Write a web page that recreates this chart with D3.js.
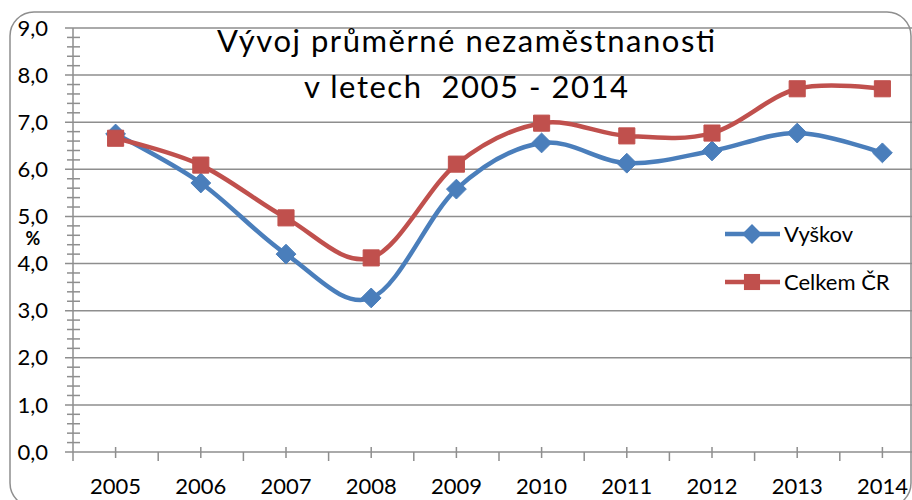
<!DOCTYPE html>
<html>
<head>
<meta charset="utf-8">
<script src="https://cdn.jsdelivr.net/npm/d3@7"></script>
<style>
    body { margin: 0; background: #fff; }
    svg { display: block; font-family: Lato, "Open Sans", sans-serif; }
</style>
</head>
<body>
<div id="chart"></div>
<script>

// data
let years = ["2005", "2006", "2007", "2008", "2009", "2010", "2011", "2012", "2013", "2014"];
let vyskov = [6.75, 5.71, 4.20, 3.27, 5.58, 6.56, 6.13, 6.39, 6.77, 6.35];
let celkemCR = [6.66, 6.09, 4.97, 4.12, 6.11, 6.98, 6.71, 6.77, 7.71, 7.71];
let yTickValues = [0, 1, 2, 3, 4, 5, 6, 7, 8, 9];
let titleLines = ["Vývoj průměrné nezaměstnanosti", "v letech  2005 - 2014"];

let series = [
    {name: "Vyškov", values: vyskov, color: "#4A7EBB", marker: "diamond"},
    {name: "Celkem ČR", values: celkemCR, color: "#C0504D", marker: "square"}
];

let width = 912, height = 500;
let plot = {left: 73, right: 925, top: 28, bottom: 452};
let gridColor = "#8E8E8E";

let svg = d3.select("#chart").append("svg")
    .attr("width", width)
    .attr("height", height);

// outer frame with rounded corners
svg.append("rect")
    .attr("x", 10).attr("y", 12)
    .attr("width", 901).attr("height", 495)
    .attr("rx", 24).attr("ry", 24)
    .attr("fill", "none")
    .attr("stroke", gridColor)
    .attr("stroke-width", 1.5);

let x = d3.scaleBand()
    .domain(years)
    .range([plot.left, plot.right]);

let cx = d => x(d) + x.bandwidth() / 2;

let y = d3.scaleLinear()
    .domain([0, 9])
    .range([plot.bottom, plot.top]);

let fmt = d3.formatLocale({decimal: ",", thousands: " ", grouping: [3], currency: ["", ""]}).format(".1f");

// gridlines (+ major tick to the left)
svg.append("g")
    .selectAll("line")
    .data(yTickValues.filter(d => d > 0))
    .enter().append("line")
    .attr("x1", plot.left - 8)
    .attr("x2", width)
    .attr("y1", d => y(d))
    .attr("y2", d => y(d))
    .attr("stroke", gridColor)
    .attr("stroke-width", 1.5);

// minor ticks on the y axis
let minor = d3.range(0, 9.01, 0.2).filter(d => Math.abs(d - Math.round(d)) > 0.01);
svg.append("g")
    .selectAll("line")
    .data(minor)
    .enter().append("line")
    .attr("x1", plot.left - 6)
    .attr("x2", plot.left + 7)
    .attr("y1", d => y(d))
    .attr("y2", d => y(d))
    .attr("stroke", gridColor)
    .attr("stroke-width", 1.5);

// y axis line
svg.append("line")
    .attr("x1", plot.left).attr("x2", plot.left)
    .attr("y1", y(9)).attr("y2", plot.bottom + 9)
    .attr("stroke", gridColor)
    .attr("stroke-width", 1.5);

// x axis line + ticks
svg.append("line")
    .attr("x1", plot.left - 8).attr("x2", width)
    .attr("y1", plot.bottom).attr("y2", plot.bottom)
    .attr("stroke", gridColor)
    .attr("stroke-width", 1.5);

svg.append("g")
    .selectAll("line")
    .data(years)
    .enter().append("line")
    .attr("x1", d => cx(d)).attr("x2", d => cx(d))
    .attr("y1", plot.bottom - 5).attr("y2", plot.bottom + 6)
    .attr("stroke", gridColor)
    .attr("stroke-width", 1.5);

svg.append("g")
    .selectAll("line")
    .data(years.slice(1))
    .enter().append("line")
    .attr("x1", d => x(d)).attr("x2", d => x(d))
    .attr("y1", plot.bottom).attr("y2", plot.bottom + 9)
    .attr("stroke", gridColor)
    .attr("stroke-width", 1.5);

// tick labels
svg.append("g")
    .selectAll("text")
    .data(yTickValues)
    .enter().append("text")
    .attr("x", 48)
    .attr("y", d => y(d))
    .attr("dy", "0.35em")
    .attr("text-anchor", "end")
    .attr("font-size", 22)
    .text(d => fmt(d));

svg.append("g")
    .selectAll("text")
    .data(years)
    .enter().append("text")
    .attr("x", d => cx(d))
    .attr("y", 494)
    .attr("text-anchor", "middle")
    .attr("font-size", 22)
    .text(d => d);

// axis title
svg.append("text")
    .attr("x", 33)
    .attr("y", 245)
    .attr("text-anchor", "middle")
    .attr("font-size", 18)
    .attr("font-weight", "bold")
    .text("%");

// chart title (Calibri runs wider, stretch a little to the reference widths)
let titleWidths = [498, 324];
svg.append("g")
    .selectAll("text")
    .data(titleLines)
    .enter().append("text")
    .attr("x", 466)
    .attr("y", (d, i) => 52 + i * 46)
    .attr("text-anchor", "middle")
    .attr("font-size", 31)
    .attr("textLength", (d, i) => titleWidths[i])
    .attr("lengthAdjust", "spacing")
    .style("white-space", "pre")
    .text(d => d);

// lines + markers
let line = d3.line()
    .x((d, i) => cx(years[i]))
    .y(d => y(d))
    .curve(d3.curveCardinal.tension(0));

let symbolFor = m => m === "diamond"
    ? d3.symbol().type(d3.symbolDiamond2).size(250)
    : d3.symbol().type(d3.symbolSquare2).size(330);

series.forEach(s => {
    svg.append("path")
        .attr("d", line(s.values))
        .attr("fill", "none")
        .attr("stroke", s.color)
        .attr("stroke-width", 4.5)
        .attr("stroke-linejoin", "round");

    svg.append("g")
        .selectAll("path")
        .data(s.values)
        .enter().append("path")
        .attr("transform", (d, i) => `translate(${cx(years[i])},${y(d)})`)
        .attr("d", symbolFor(s.marker)())
        .attr("fill", s.color)
        .attr("stroke", s.color)
        .attr("stroke-width", 1);
});

// legend
let legend = svg.append("g")
    .selectAll("g")
    .data(series)
    .enter().append("g")
    .attr("transform", (d, i) => `translate(725,${234 + i * 48})`);

legend.append("line")
    .attr("x1", 0).attr("x2", 55)
    .attr("stroke", d => d.color)
    .attr("stroke-width", 4.5);

legend.append("path")
    .attr("transform", "translate(27,0)")
    .attr("d", d => symbolFor(d.marker)())
    .attr("fill", d => d.color);

legend.append("text")
    .attr("x", 59)
    .attr("dy", "0.35em")
    .attr("font-size", 22)
    .text(d => d.name);

</script>
</body>
</html>
